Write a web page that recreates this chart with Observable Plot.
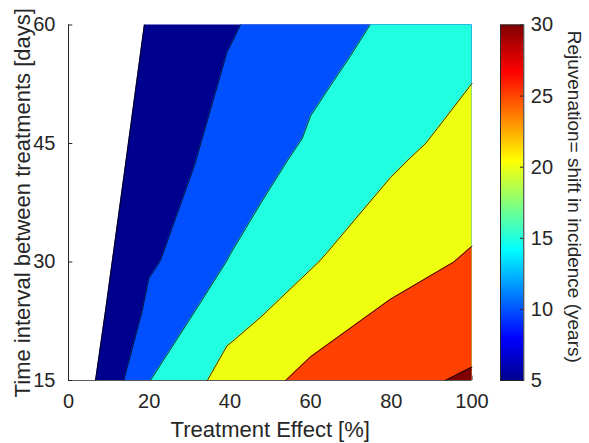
<!DOCTYPE html>
<html><head><meta charset="utf-8">
<script src="https://cdn.jsdelivr.net/npm/d3@7"></script>
<script src="https://cdn.jsdelivr.net/npm/@observablehq/plot@0.6"></script>
<style>
body{margin:0;background:#fff;}
#chart{position:relative;width:589px;height:443px;overflow:hidden;}
#chart svg{position:absolute;left:0;top:0;}
</style></head><body><div id="chart"></div>
<script>
// ---- data ----
const levels = [5, 10, 15, 20, 25, 30];
// contour lines as [treatment effect %, interval days], ordered by days
const contour5  = [[6.7,15],[9.2,23.9],[14.1,42.2],[18.8,60]];
const contour10 = [[13.7,15],[18.3,23.9],[19.9,27.9],[22.8,30.2],[31.2,42.2],[39.3,56.6],[40.3,57.6],[42.6,60]];
const contour15 = [[20.3,15],[31.5,23.9],[39.3,30.2],[40.1,31.0],[47.6,37.4],[54.2,42.8],[57.9,45.6],[60.0,48.5],[64.9,52.3],[69.9,56.1],[74.7,60]];
const contour20 = [[34.4,15],[39.3,19.4],[40.1,19.7],[47.6,23.0],[62.0,30.0],[64.1,31.2],[79.8,40.7],[83.9,42.8],[88.5,45.0],[91.4,46.9],[100,52.6]];
const contour25 = [[53.8,15],[60.0,18.0],[79.8,25.3],[95.5,30.0],[100,32.0]];
const contour30 = [[93.4,15],[100,16.7]];
const contours = [contour5, contour10, contour15, contour20, contour25, contour30];
const xTicks = [0, 20, 40, 60, 80, 100];
const yTicks = [15, 30, 45, 60];
const cbTicks = [5, 10, 15, 20, 25, 30];
const xLabel = "Treatment Effect [%]";
const yLabel = "Time interval between treatments [days]";
const cbLabel = "Rejuvenation= shift in incidence (years)";

// ---- styles ----
const jetBand = ["#00008f", "#0050ff", "#20ffdf", "#efff10", "#ff4000", "#800000"];
const ink = "#262626";
const font = "'Liberation Sans', Arial, Helvetica, sans-serif";

const fills = contours.map((c, i) => Plot.areaX(c, {
  y: d => d[1], x1: d => d[0], x2: () => 100, fill: () => levels[i]
}));
const lines = contours.map(c => Plot.line(c, {
  x: d => d[0], y: d => d[1], stroke: "#000", strokeWidth: 0.8
}));

const main = Plot.plot({
  width: 589, height: 443,
  marginLeft: 68, marginRight: 117.5, marginTop: 24.5, marginBottom: 63,
  x: {domain: [0, 100]},
  y: {domain: [15, 60]},
  color: {type: "ordinal", domain: levels, range: jetBand},
  style: {fontFamily: font, fontSize: "20px", color: ink, background: "white"},
  marks: [
    Plot.ruleY(yTicks, {x1: 0, x2: 1.07, stroke: ink}),
    Plot.ruleX(xTicks, {y1: 15, y2: 15.55, stroke: ink}),
    ...fills,
    ...lines,
    Plot.ruleX([0], {y1: 15, y2: 60, stroke: ink}),
    Plot.ruleY([15], {x1: 0, x2: 100, stroke: ink, strokeOpacity: 0.75}),
    Plot.axisX({ticks: xTicks, tickSize: 0, tickPadding: 13, label: null, fontSize: 20}),
    Plot.axisY({ticks: yTicks, tickSize: 0, tickPadding: 13, label: null, fontSize: 20}),
    Plot.text([xLabel], {text: d => d, frameAnchor: "bottom", dy: 49.7, textAnchor: "middle", lineAnchor: "middle", fontSize: 22, fill: ink}),
    Plot.text([yLabel], {text: d => d, frameAnchor: "left", dx: -45.5, rotate: -90, textAnchor: "middle", lineAnchor: "middle", fontSize: 22, fill: ink})
  ]
});

const cbar = Plot.plot({
  width: 589, height: 443,
  marginLeft: 500, marginRight: 65.7, marginTop: 24.5, marginBottom: 63,
  x: {domain: [0, 1], axis: null},
  y: {domain: [5, 30]},
  style: {fontFamily: font, fontSize: "20px", color: ink, background: "transparent"},
  marks: [
    Plot.rect([[cbTicks[0], cbTicks[cbTicks.length - 1]]], {x1: () => 0, x2: () => 1, y1: d => d[0], y2: d => d[1], fill: "url(#jetGrad)"}),
    Plot.ruleY(cbTicks, {x1: 0.855, x2: 1, stroke: ink}),
    Plot.frame({stroke: ink}),
    Plot.axisY({anchor: "right", ticks: cbTicks, tickSize: 0, tickPadding: 7, label: null, fontSize: 20}),
    Plot.text([cbLabel], {text: d => d, frameAnchor: "right", dx: 50, dy: -6, rotate: 90, textAnchor: "middle", lineAnchor: "middle", fontSize: 19, fill: ink})
  ]
});

const defs = d3.select(cbar).insert("defs", ":first-child");
const grad = defs.append("linearGradient").attr("id", "jetGrad")
  .attr("x1", 0).attr("y1", 1).attr("x2", 0).attr("y2", 0);
[[0, "#00008f"], [0.117, "#0000ff"], [0.367, "#00ffff"], [0.617, "#ffff00"], [0.867, "#ff0000"], [1, "#800000"]]
  .forEach(([o, c]) => grad.append("stop").attr("offset", o).attr("stop-color", c));

const host = document.getElementById("chart");
host.appendChild(main);
host.appendChild(cbar);
</script>
</body></html>
